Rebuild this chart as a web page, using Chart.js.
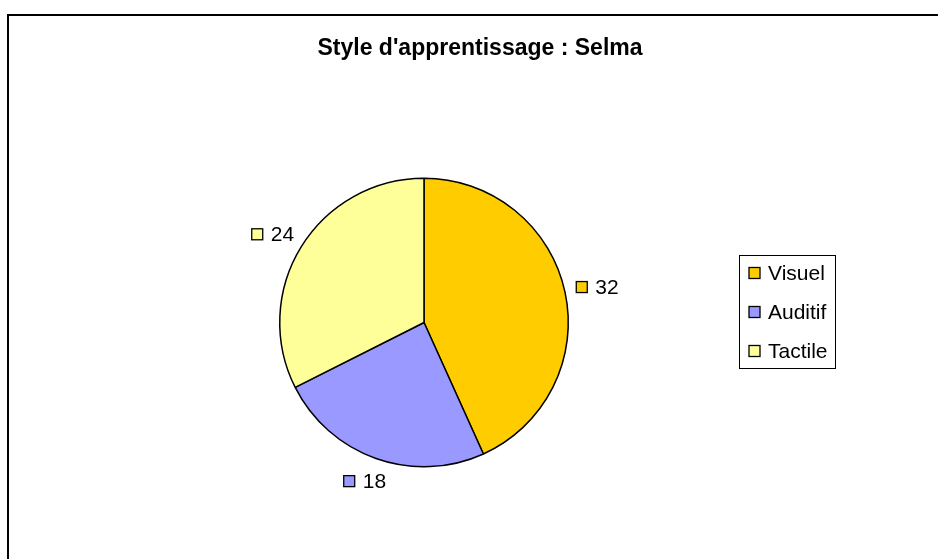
<!DOCTYPE html>
<html>
<head>
<meta charset="utf-8">
<title>Style d'apprentissage : Selma</title>
<script src="https://cdn.jsdelivr.net/npm/chart.js@4"></script>
<style>
    html, body { margin: 0; padding: 0; background: #fff; }
    #wrap { position: relative; width: 938px; height: 559px; }
</style>
</head>
<body>
<div id="wrap"><canvas id="chart"></canvas></div>
<script>
const chartTitle = "Style d'apprentissage : Selma";
const categories = ['Visuel', 'Auditif', 'Tactile'];
const values = [32, 18, 24];
const colors = ['#FFCC00', '#9999FF', '#FFFF99'];

const FONT = '"Liberation Sans", Arial, sans-serif';

// frame, title, data labels and legend box (Excel look)
const excelDecor = {
    id: 'excelDecor',
    beforeDraw(chart) {
        const ctx = chart.ctx;
        ctx.save();
        ctx.fillStyle = '#fff';
        ctx.fillRect(0, 0, chart.width, chart.height);
        ctx.strokeStyle = '#000';
        ctx.lineWidth = 2;
        ctx.strokeRect(8, 15, chart.width + 20, chart.height + 20);
        ctx.restore();
    },
    afterDraw(chart) {
        const ctx = chart.ctx;
        ctx.save();

        // title
        ctx.fillStyle = '#000';
        ctx.font = 'bold 23px ' + FONT;
        ctx.textAlign = 'center';
        ctx.textBaseline = 'middle';
        ctx.fillText(chartTitle, 480, 49);

        // data labels outside the slices
        ctx.font = '21px ' + FONT;
        ctx.textAlign = 'left';
        const meta = chart.getDatasetMeta(0);
        meta.data.forEach((arc, i) => {
            const p = arc.getProps(['x', 'y', 'startAngle', 'endAngle', 'outerRadius'], true);
            const mid = (p.startAngle + p.endAngle) / 2;
            const cos = Math.cos(mid), sin = Math.sin(mid);
            const txt = String(values[i]);
            const w = 11 + 8 + ctx.measureText(txt).width;
            const h = 24;
            const d = p.outerRadius + 12;
            const cx = p.x + d * cos + cos * w / 2;
            const cy = p.y + d * sin + sin * h / 2;
            const left = cx - w / 2;
            ctx.fillStyle = colors[i];
            ctx.fillRect(left, cy - 5.5, 11, 11);
            ctx.strokeStyle = '#000';
            ctx.lineWidth = 1.3;
            ctx.strokeRect(left, cy - 5.5, 11, 11);
            ctx.fillStyle = '#000';
            ctx.fillText(txt, left + 19, cy + 1);
        });

        // legend
        ctx.strokeStyle = '#000';
        ctx.lineWidth = 1;
        ctx.strokeRect(739.5, 255.5, 96, 113);
        categories.forEach((name, i) => {
            const y = 273 + i * 39;
            ctx.fillStyle = colors[i];
            ctx.fillRect(749, y - 5.5, 11, 11);
            ctx.lineWidth = 1.3;
            ctx.strokeRect(749, y - 5.5, 11, 11);
            ctx.fillStyle = '#000';
            ctx.fillText(name, 768, y + 1);
        });
        ctx.restore();
    }
};

const ctx = document.getElementById('chart').getContext('2d');
const chart = new Chart(ctx, {
    type: 'pie',
    data: {
        labels: categories,
        datasets: [{
            data: values,
            backgroundColor: colors,
            borderColor: '#000',
            borderWidth: 1.5
        }]
    },
    options: {
        responsive: true,
        maintainAspectRatio: false,
        animation: false,
        layout: {
            padding: { left: 279, right: 369, top: 177, bottom: 91 }
        },
        plugins: {
            legend: { display: false },
            title: { display: false },
            tooltip: { enabled: false }
        }
    },
    plugins: [excelDecor]
});
</script>
</body>
</html>
